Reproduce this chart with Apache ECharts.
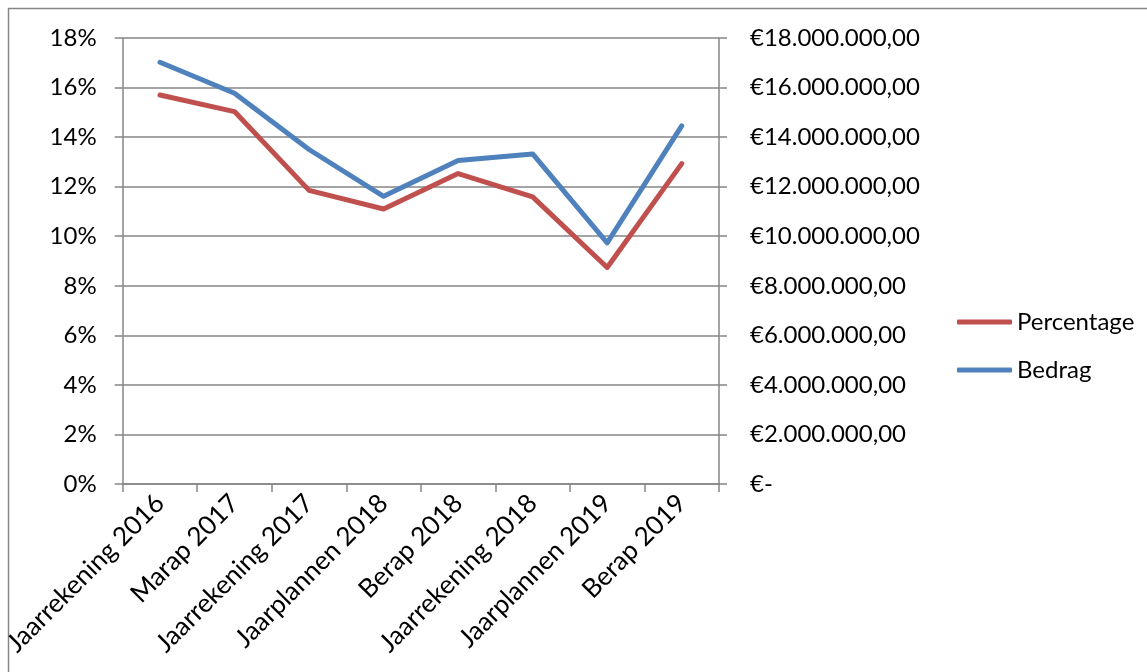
<!DOCTYPE html>
<html>
<head>
<meta charset="utf-8">
<script src="https://cdn.jsdelivr.net/npm/echarts@6/dist/echarts.min.js"></script>
<style>
html,body{margin:0;padding:0;background:#fff;}
#chart{width:1147px;height:672px;}
</style>
</head>
<body>
<div id="chart"></div>
<script>
const categories = ['Jaarrekening 2016','Marap 2017','Jaarrekening 2017','Jaarplannen 2018','Berap 2018','Jaarrekening 2018','Jaarplannen 2019','Berap 2019'];
const percentage = [15.7, 15.03, 11.85, 11.1, 12.53, 11.59, 8.74, 12.93];
const bedrag = [17020000, 15770000, 13500000, 11610000, 13060000, 13320000, 9730000, 14450000];
const seriesNames = ['Percentage', 'Bedrag'];

const FONT = 'Lato';
const GRAY = '#868686';

function euro(v) {
  if (v === 0) return '€-';
  const s = Math.round(v).toString().replace(/\B(?=(\d{3})+(?!\d))/g, '.');
  return '€' + s + ',00';
}

const chart = echarts.init(document.getElementById('chart'), null, {renderer: 'canvas'});
chart.setOption({
  animation: false,
  backgroundColor: '#fff',
  textStyle: {fontFamily: FONT, color: '#000'},
  graphic: [{
    type: 'rect', silent: true,
    shape: {x: 8.5, y: 8.5, width: 1300, height: 800},
    style: {fill: 'none', stroke: GRAY, lineWidth: 1.5}
  }],
  grid: {left: 121, right: 428, top: 38, bottom: 188, containLabel: false},
  legend: {
    orient: 'vertical',
    left: 952, top: 304,
    itemWidth: 55, itemHeight: 5,
    itemGap: 22,
    icon: 'roundRect',
    textStyle: {fontFamily: FONT, fontSize: 24, color: '#000', lineHeight: 26},
    data: seriesNames
  },
  xAxis: {
    type: 'category',
    data: categories,
    boundaryGap: true,
    axisLine: {show: true, lineStyle: {color: GRAY, width: 1.5}},
    axisTick: {show: true, length: 8, inside: false, lineStyle: {color: GRAY, width: 1.5}},
    axisLabel: {rotate: 45, margin: 15, fontFamily: FONT, fontSize: 26, color: '#000', interval: 0},
    splitLine: {show: false}
  },
  yAxis: [{
    type: 'value', min: 0, max: 18, interval: 2,
    axisLine: {show: true, lineStyle: {color: GRAY, width: 1.5}},
    axisTick: {show: true, length: 8, lineStyle: {color: GRAY, width: 1.5}},
    axisLabel: {formatter: '{value}%', margin: 26, fontFamily: FONT, fontSize: 24, color: '#000'},
    splitLine: {show: true, lineStyle: {color: GRAY, width: 1.5}}
  }, {
    type: 'value', min: 0, max: 18000000, interval: 2000000,
    position: 'right',
    axisLine: {show: true, lineStyle: {color: GRAY, width: 1.5}},
    axisTick: {show: true, length: 8, lineStyle: {color: GRAY, width: 1.5}},
    axisLabel: {formatter: euro, margin: 31, fontFamily: FONT, fontSize: 24, color: '#000', align: 'left'},
    splitLine: {show: false}
  }],
  series: [{
    name: seriesNames[0], type: 'line', yAxisIndex: 0,
    data: percentage, symbol: 'none',
    itemStyle: {color: '#C0504D'},
    lineStyle: {color: '#C0504D', width: 5, cap: 'round', join: 'round'}
  }, {
    name: seriesNames[1], type: 'line', yAxisIndex: 1,
    data: bedrag, symbol: 'none',
    itemStyle: {color: '#4F81BD'},
    lineStyle: {color: '#4F81BD', width: 5, cap: 'round', join: 'round'}
  }]
});
</script>
</body>
</html>
